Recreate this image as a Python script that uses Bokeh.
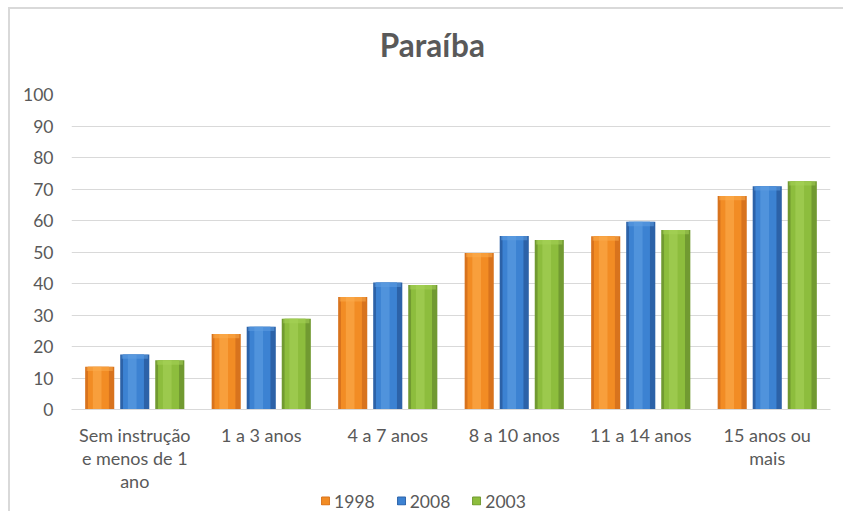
from bokeh.plotting import figure
from bokeh.models import ColumnDataSource, FactorRange, Legend, LegendItem, Label
from bokeh.layouts import column
from bokeh.transform import dodge
from bokeh.embed import file_html
from bokeh.resources import INLINE

categories = ["Sem instrução\ne menos de 1\nano", "1 a 3 anos", "4 a 7 anos",
              "8 a 10 anos", "11 a 14 anos", "15 anos ou\nmais"]
v1998 = [13.6, 24.0, 35.7, 49.7, 55.0, 67.8]
v2008 = [17.5, 26.3, 40.3, 55.1, 59.6, 70.9]
v2003 = [15.6, 28.8, 39.5, 53.8, 57.0, 72.5]
series_names = ["1998", "2008", "2003"]
y_ticks = list(range(0, 101, 10))
chart_title = "Paraíba"

FONT = "Lato"
TXT = "#595959"

data = dict(cat=categories, s1998=v1998, s2008=v2008, s2003=v2003)
for k in ["s1998", "s2008", "s2003"]:
    data[k + "_cap"] = [v - 1.4 for v in data[k]]
src = ColumnDataSource(data)

# title strip (no axes, no built-in title)
pt = figure(width=833, height=70, output_backend="svg", toolbar_location=None,
            min_border=0, x_range=(0, 833), y_range=(0, 70),
            x_axis_type=None, y_axis_type=None, title=None)
pt.grid.visible = False
pt.outline_line_color = None
pt.add_layout(Label(x=396, y=35, text=chart_title, text_font=FONT, text_font_style="bold",
                    text_font_size="31.5px", text_color=TXT, text_align="center",
                    text_baseline="alphabetic"))

p = figure(x_range=FactorRange(*categories), y_range=(0, 100),
           width=833, height=416, output_backend="svg", toolbar_location=None,
           min_border_left=61, min_border_right=13, min_border_top=15, min_border_bottom=85)
p.outline_line_color = None

colors = [("#d8731d", "#f28c24", "#fbab4c"),
          ("#2c62a8", "#3c82d2", "#5e9ee2"),
          ("#719a31", "#8dbd3d", "#a6d158")]
cols = ["s1998", "s2008", "s2003"]
offsets = [-0.277, 0.0, 0.277]
bw = 0.23
for col, off, (dark, mid, light) in zip(cols, offsets, colors):
    p.vbar(x=dodge("cat", off, range=p.x_range), top=col, width=bw, source=src,
           fill_color=dark, line_color=None)
    p.vbar(x=dodge("cat", off - 0.01, range=p.x_range), top=col, width=bw * 0.72, source=src,
           fill_color=mid, line_color=None)
    p.vbar(x=dodge("cat", off - 0.02, range=p.x_range), top=col, width=bw * 0.3, source=src,
           fill_color=light, line_color=None, fill_alpha=0.6)
    p.vbar(x=dodge("cat", off, range=p.x_range), top=col, bottom=col + "_cap",
           width=bw * 0.9, source=src, fill_color=light, line_color=None, fill_alpha=0.55)

p.yaxis.ticker = y_ticks
p.ygrid.grid_line_color = "#d9d9d9"
p.ygrid.grid_line_width = 1
p.xgrid.grid_line_color = None
p.yaxis.axis_line_color = None
p.yaxis.major_tick_line_color = None
p.yaxis.major_tick_out = 0
p.yaxis.minor_tick_line_color = None
p.yaxis.minor_tick_out = 0
p.yaxis.major_label_standoff = 18
p.yaxis.major_label_text_font = FONT
p.yaxis.major_label_text_font_size = "17.5px"
p.yaxis.major_label_text_color = TXT

p.xaxis.axis_line_color = "#d9d9d9"
p.xaxis.axis_line_width = 1
p.xaxis.major_tick_line_color = None
p.xaxis.major_tick_out = 0
p.xaxis.minor_tick_line_color = None
p.xaxis.minor_tick_out = 0
p.xaxis.major_label_standoff = 14
p.xaxis.major_label_text_font = FONT
p.xaxis.major_label_text_font_size = "18px"
p.xaxis.major_label_text_color = TXT
p.xaxis.major_label_text_line_height = 1.06

# legend strip (swatch renderers sit outside the visible range)
p2 = figure(width=778, height=21, output_backend="svg", toolbar_location=None,
            min_border=0, x_range=(0, 1), y_range=(0, 1))
p2.axis.visible = False
p2.grid.visible = False
p2.outline_line_color = None
p2.background_fill_color = None
p2.border_fill_color = None
p2.styles = {"margin-top": "-5px"}
items = []
for name, (dark, mid, light) in zip(series_names, colors):
    r = p2.vbar(x=[-5], top=[-5], bottom=[-6], width=0.1, fill_color=mid, line_color=dark)
    items.append(LegendItem(label=name, renderers=[r]))
legend = Legend(items=items, orientation="horizontal", location="center",
                glyph_width=10, glyph_height=10, label_standoff=4, spacing=21,
                padding=0, margin=0, border_line_color=None, background_fill_alpha=0,
                label_text_font=FONT, label_text_font_size="17.5px", label_text_color=TXT,
                label_height=18)
p2.add_layout(legend, "center")

layout = column(pt, p, p2, spacing=0,
                styles={"margin-left": "8px", "margin-top": "7px",
                        "border-left": "2px solid #d9d9d9", "border-top": "2px solid #d9d9d9"})

open("out.html", "w").write(file_html(layout, INLINE))
